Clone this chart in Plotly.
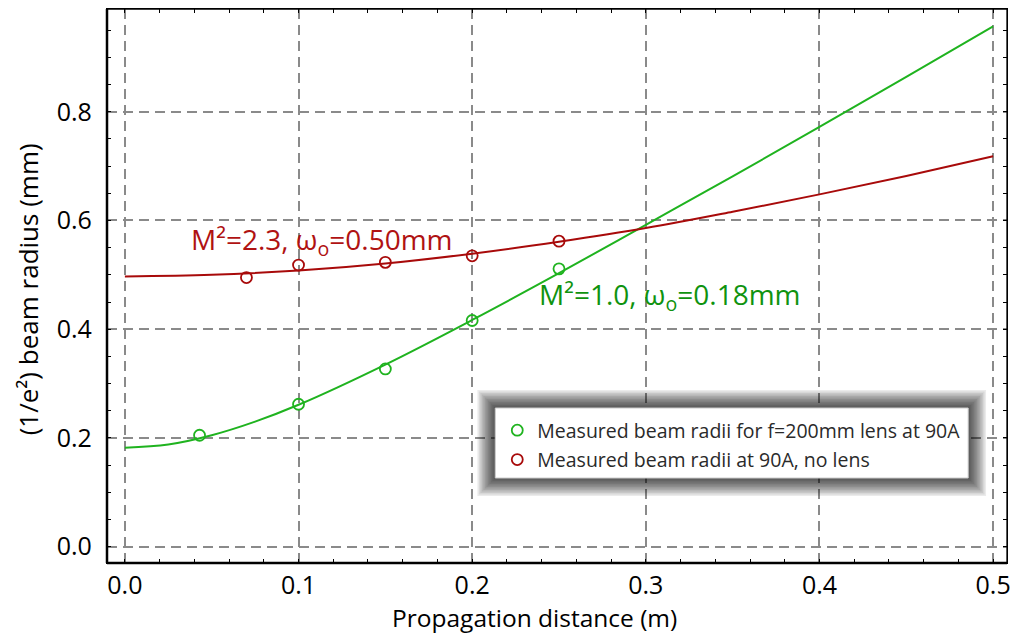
import plotly.graph_objects as go

# Measured points
z_green = [0.043, 0.100, 0.150, 0.200, 0.250]
w_green = [0.205, 0.262, 0.327, 0.416, 0.511]
z_red = [0.070, 0.100, 0.150, 0.200, 0.250]
w_red = [0.495, 0.518, 0.523, 0.535, 0.562]

# Fit curves
zf_green = [0.0, 0.025, 0.05, 0.075, 0.10, 0.15, 0.20, 0.25, 0.30, 0.35, 0.40, 0.45, 0.50]
wf_green = [0.182, 0.188, 0.205, 0.230, 0.261, 0.335, 0.417, 0.503, 0.592, 0.681, 0.772, 0.864, 0.957]
zf_red = [0.0, 0.05, 0.10, 0.15, 0.20, 0.25, 0.30, 0.35, 0.40, 0.45, 0.50]
wf_red = [0.497, 0.500, 0.508, 0.521, 0.539, 0.561, 0.586, 0.616, 0.648, 0.682, 0.718]

x_ticks = [0.0, 0.1, 0.2, 0.3, 0.4, 0.5]
y_ticks = [0.0, 0.2, 0.4, 0.6, 0.8]

GREEN_LINE = "#1fb31f"
RED_LINE = "#a80a0a"
GREEN_TXT = "#0f930f"
RED_TXT = "#b01212"
FONT = "Open Sans"

fig = go.Figure()
fig.add_trace(go.Scatter(x=zf_green, y=wf_green, mode="lines", line=dict(color=GREEN_LINE, width=2, shape="spline"),
                         showlegend=False, hoverinfo="skip"))
fig.add_trace(go.Scatter(x=zf_red, y=wf_red, mode="lines", line=dict(color=RED_LINE, width=2, shape="spline"),
                         showlegend=False, hoverinfo="skip"))
fig.add_trace(go.Scatter(x=z_green, y=w_green, mode="markers", name="Measured beam radii for f=200mm lens at 90A",
                         legendgroup="g", marker=dict(symbol="circle-open", size=11, color=GREEN_LINE, line=dict(width=1.8))))
fig.add_trace(go.Scatter(x=z_red, y=w_red, mode="markers", name="Measured beam radii at 90A, no lens",
                         legendgroup="r", marker=dict(symbol="circle-open", size=11, color=RED_LINE, line=dict(width=1.8))))

L, R, T, B = 107, 5, 9, 71
W, H = 1016, 634
pw, ph = W - L - R, H - T - B

def px(x):
    return (x - L) / pw

def py(y):
    return (H - B - y) / ph

shapes = []
# legend shadow
bx0, bx1, by0, by1 = 497, 972, 408, 478
for i in range(12, 0, -1):
    e = i * 1.5
    shapes.append(dict(type="rect", xref="paper", yref="paper", layer="above",
                       x0=px(bx0 - e), x1=px(bx1 + e), y0=py(by1 + e), y1=py(by0 - e),
                       line=dict(width=0), fillcolor="rgba(0,0,0,0.08)"))
shapes.append(dict(type="rect", xref="paper", yref="paper", layer="above",
                   x0=px(bx0), x1=px(bx1), y0=py(by1), y1=py(by0),
                   line=dict(width=1, color="#cccccc"), fillcolor="white"))
# frame
shapes.append(dict(type="rect", xref="paper", yref="paper", x0=0, x1=1, y0=0, y1=1,
                   line=dict(color="black", width=1.3), layer="above"))
shapes.append(dict(type="line", xref="paper", yref="paper", x0=0, x1=0, y0=0, y1=1,
                   line=dict(color="black", width=2.5), layer="above"))
shapes.append(dict(type="line", xref="paper", yref="paper", x0=0, x1=1, y0=0, y1=0,
                   line=dict(color="black", width=2.5), layer="above"))
fig.update_layout(shapes=shapes)

fig.add_annotation(x=0.1136, y=0.5625, text="M²=2.3, ω<sub>o</sub>=0.50mm", showarrow=False,
                   font=dict(family=FONT, size=28, color=RED_TXT))
fig.add_annotation(x=0.3138, y=0.461, text="M²=1.0, ω<sub>o</sub>=0.18mm", showarrow=False,
                   font=dict(family=FONT, size=28, color=GREEN_TXT))

# axis titles
fig.add_annotation(xref="paper", yref="paper", x=px(536), y=py(617), text="Propagation distance (m)",
                   showarrow=False, xanchor="center", yanchor="middle",
                   font=dict(family=FONT, size=24.5, color="black"))
fig.add_annotation(xref="paper", yref="paper", x=px(28), y=py(289), text="(1/e²) beam radius (mm)",
                   showarrow=False, xanchor="center", yanchor="middle", textangle=-90,
                   font=dict(family=FONT, size=26, color="black"))

grid = dict(showgrid=True, gridcolor="#8a8a8a", gridwidth=2, griddash="10px,6px", zeroline=False,
            showline=True, linecolor="black", linewidth=1.3, mirror="ticks",
            ticks="", tickfont=dict(family=FONT, size=25, color="black"))

fig.update_xaxes(**grid, range=[-0.0103, 0.508], tickvals=x_ticks, ticktext=[f"{v:.1f}" for v in x_ticks],
                 ticklabelstandoff=0,
                 minor=dict(ticks="inside", dtick=0.02, tick0=0, ticklen=4, tickcolor="black", showgrid=False))
fig.update_yaxes(**grid, range=[-0.030, 0.989], tickvals=y_ticks, ticktext=[f"{v:.1f}" for v in y_ticks],
                 ticklabelstandoff=9,
                 minor=dict(ticks="inside", dtick=0.05, tick0=0, ticklen=4, tickcolor="black", showgrid=False))

fig.update_layout(
    width=W, height=H, margin=dict(l=L, r=R, t=T, b=B),
    plot_bgcolor="white", paper_bgcolor="white",
    legend=dict(x=px(bx0 + 2), y=py(by0 + 3), xanchor="left", yanchor="top", bgcolor="rgba(0,0,0,0)",
                borderwidth=0, font=dict(family=FONT, size=19.5, color="#2a2a2a"),
                itemwidth=30, tracegroupgap=1),
)

fig.write_html("out.html")
